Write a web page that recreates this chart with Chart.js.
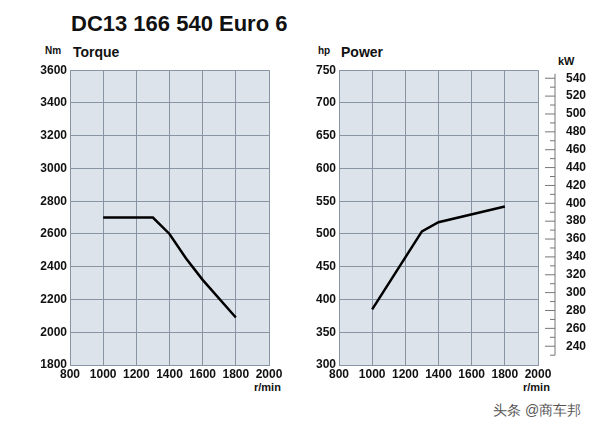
<!DOCTYPE html>
<html>
<head>
<meta charset="utf-8">
<script src="https://cdn.jsdelivr.net/npm/chart.js@4"></script>
<style>
  body { margin:0; width:600px; height:431px; background:#fff; position:relative; overflow:hidden;
         font-family:"Liberation Sans", Arial, sans-serif; }
  .t { position:absolute; font-weight:bold; color:#111; white-space:nowrap; }
  .box { position:absolute; }
</style>
</head>
<body>
<div class="t" style="left:71px;top:11px;font-size:22px;">DC13 166 540 Euro 6</div>
<div class="t" style="left:45px;top:45px;font-size:10px;">Nm</div>
<div class="t" style="left:73px;top:44px;font-size:14px;">Torque</div>
<div class="t" style="left:318px;top:45px;font-size:10px;">hp</div>
<div class="t" style="left:341px;top:44px;font-size:14px;">Power</div>
<div class="t" style="left:558px;top:55px;font-size:11px;">kW</div>
<div class="t" style="left:254px;top:381px;font-size:11px;">r/min</div>
<div class="t" style="left:523px;top:381px;font-size:11px;">r/min</div>
<div class="t" style="left:493px;top:402px;font-size:14px;font-weight:normal;color:#555;">头条 @商车邦</div>
<div class="box" style="left:0;top:60px;width:300px;height:327px;"><canvas id="torque"></canvas></div>
<div class="box" style="left:290px;top:60px;width:300px;height:327px;"><canvas id="power"></canvas></div>
<script>
// r/min
const torqueRpm = [1000, 1300, 1400, 1500, 1600, 1800]
const torqueNm = [2700, 2700, 2600, 2450, 2320, 2090]
const powerRpm = [1000, 1300, 1400, 1800]
const powerHp = [385, 504, 518, 542]

const tickFont = { family: '"Liberation Sans", Arial, sans-serif', size: 12, weight: 'bold' }
const plain = v => String(v)

const plotBg = {
    id: 'plotBg',
    beforeDraw(chart){
        const a = chart.chartArea, ctx = chart.ctx
        ctx.save()
        ctx.fillStyle = '#dce3ea'
        ctx.fillRect(a.left, a.top, a.right - a.left, a.bottom - a.top)
        ctx.restore()
    }
}

// kW scale drawn as a separate ruler to the right of the plot
const kwRuler = {
    id: 'kwRuler',
    afterDraw(chart){
        const s = chart.scales.kw
        if(!s) return
        const ctx = chart.ctx, x = chart.chartArea.right + 17
        ctx.save()
        ctx.strokeStyle = '#777'
        ctx.lineWidth = 1
        ctx.beginPath()
        ctx.moveTo(x, s.getPixelForValue(545))
        ctx.lineTo(x, s.getPixelForValue(230))
        for(let v = 230; v <= 540; v += 10){
            const y = s.getPixelForValue(v)
            ctx.moveTo(x - (v % 20 === 0 ? 10 : 5), y)
            ctx.lineTo(x, y)
        }
        ctx.stroke()
        ctx.restore()
    }
}

function xScale(){
    return {
        type: 'linear', min: 800, max: 2000,
        ticks: { stepSize: 200, color: '#111', font: tickFont, padding: 2, maxRotation: 0, callback: plain },
        grid: { color: '#8994a3', tickLength: 0 },
        border: { color: '#8994a3' },
        afterFit(s){ s.height = 22 }
    }
}

function lineSet(xs, ys){
    return {
        data: xs.map((x, i) => ({ x: x, y: ys[i] })),
        borderColor: '#000', borderWidth: 2.5, pointRadius: 0, tension: 0
    }
}

new Chart(document.getElementById('torque'), {
    type: 'line',
    data: { datasets: [lineSet(torqueRpm, torqueNm)] },
    plugins: [plotBg],
    options: {
        responsive: true, maintainAspectRatio: false, animation: false,
        layout: { padding: { top: 6, right: 31, left: 0, bottom: 0 } },
        plugins: { legend: { display: false }, tooltip: { enabled: false } },
        scales: {
            x: xScale(),
            y: {
                min: 1800, max: 3600,
                ticks: { stepSize: 200, color: '#111', font: tickFont, padding: 3, callback: plain },
                grid: { color: '#8994a3', tickLength: 0 },
                border: { color: '#8994a3' },
                afterFit(s){ s.width = 70 }
            }
        }
    }
})

new Chart(document.getElementById('power'), {
    type: 'line',
    data: { datasets: [lineSet(powerRpm, powerHp)] },
    plugins: [plotBg, kwRuler],
    options: {
        responsive: true, maintainAspectRatio: false, animation: false,
        layout: { padding: { top: 6, right: 0, left: 0, bottom: 0 } },
        plugins: { legend: { display: false }, tooltip: { enabled: false } },
        scales: {
            x: xScale(),
            y: {
                min: 300, max: 750,
                ticks: { stepSize: 50, color: '#111', font: tickFont, padding: 3, callback: plain },
                grid: { color: '#8994a3', tickLength: 0 },
                border: { color: '#8994a3' },
                afterFit(s){ s.width = 49 }
            },
            kw: {
                position: 'right', min: 219, max: 549,
                ticks: { stepSize: 20, includeBounds: false, autoSkip: false, color: '#111', font: tickFont, padding: 20,
                         callback: v => (v >= 240 && v <= 540 ? String(v) : '') },
                grid: { display: false },
                border: { display: false },
                afterFit(s){ s.width = 52; s.paddingTop = 0; s.paddingBottom = 0 }
            }
        }
    }
})
</script>
</body>
</html>
